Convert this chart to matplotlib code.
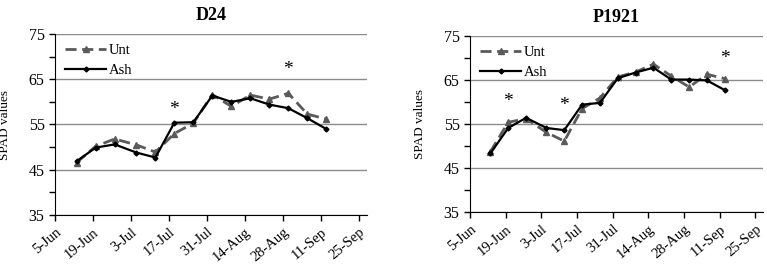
import matplotlib
matplotlib.use("Agg")
import matplotlib.pyplot as plt
import matplotlib.dates as mdates
from matplotlib.ticker import MultipleLocator, FuncFormatter
import datetime as dt

# sampling dates (same for both cultivars)
dates = ["13-Jun", "20-Jun", "27-Jun", "5-Jul", "12-Jul", "19-Jul", "26-Jul",
         "2-Aug", "9-Aug", "16-Aug", "23-Aug", "30-Aug", "6-Sep", "13-Sep"]

d24_unt = [46.6, 50.2, 51.8, 50.5, 48.9, 53.0, 55.3, 61.6, 59.0, 61.5, 60.6, 61.9, 57.3, 56.2]
d24_ash = [46.9, 49.9, 50.6, 48.8, 47.7, 55.4, 55.5, 61.4, 60.0, 60.8, 59.4, 58.6, 56.4, 54.0]

p1921_unt = [48.7, 55.4, 56.2, 53.1, 51.1, 58.5, 60.9, 65.7, 66.8, 68.6, 65.9, 63.4, 66.3, 65.3]
p1921_ash = [48.3, 54.1, 56.4, 54.1, 53.6, 59.4, 59.8, 65.4, 66.7, 67.8, 65.1, 65.1, 64.9, 62.7]

# significance marks (date, y)
d24_stars = [("19-Jul", 58.3), ("30-Aug", 67.2)]
p1921_stars = [("20-Jun", 60.2), ("12-Jul", 59.2), ("13-Sep", 69.9)]

tick_dates = ["5-Jun", "19-Jun", "3-Jul", "17-Jul", "31-Jul", "14-Aug", "28-Aug", "11-Sep", "25-Sep"]


def todate(s):
    return dt.datetime.strptime(s + "-2013", "%d-%b-%Y")


plt.rcParams["font.family"] = ["Liberation Serif", "DejaVu Serif"]

fig = plt.figure(figsize=(7.67, 2.66), dpi=100)
ax1 = fig.add_axes([55 / 767, 1 - 215 / 266, 312 / 767, 181 / 266])
ax2 = fig.add_axes([470 / 767, 1 - 212 / 266, 293 / 767, 176 / 266])


def panel(ax, title, unt, ash, stars):
    x = [todate(d) for d in dates]
    ax.plot(x, unt, color="#5a5a5a", ls=(0, (4, 2)), lw=2, marker="^", ms=4,
            label="Unt", zorder=3)
    ax.plot(x, ash, color="black", lw=1.6, marker="D", ms=2.5, label="Ash", zorder=4)
    for d, y in stars:
        ax.text(todate(d), y, "*", ha="center", va="center", fontsize=14)
    ax.set_ylim(35, 75)
    ax.set_xlim(todate("5-Jun"), todate("28-Sep"))
    ax.yaxis.set_major_locator(MultipleLocator(10, offset=5))
    ax.yaxis.set_minor_locator(MultipleLocator(5))
    ax.grid(axis="y", which="major", color="#8c8c8c", lw=1)
    ax.set_axisbelow(True)
    ax.set_xticks([todate(d) for d in tick_dates])
    ax.xaxis.set_major_formatter(FuncFormatter(
        lambda v, p: mdates.num2date(v).strftime("%d-%b").lstrip("0")))
    for lab in ax.get_xticklabels():
        lab.set_rotation(40)
        lab.set_ha("right")
        lab.set_rotation_mode("anchor")
    ax.tick_params(axis="x", labelsize=10.5, length=4, width=1)
    ax.tick_params(axis="y", labelsize=11.5, length=4, width=1)
    ax.tick_params(axis="y", which="minor", length=4, width=1)
    ax.spines["top"].set_visible(False)
    ax.spines["right"].set_visible(False)
    ax.set_ylabel("SPAD values", fontsize=9.5)
    ax.set_title(title, fontsize=13, fontweight="bold", pad=10)
    ax.legend(loc="upper left", frameon=False, fontsize=10.5, handlelength=2.8,
              borderaxespad=0.3, labelspacing=0.45, handletextpad=0.2)


panel(ax1, "D24", d24_unt, d24_ash, d24_stars)
panel(ax2, "P1921", p1921_unt, p1921_ash, p1921_stars)
ax1.yaxis.set_label_coords(-0.14, 0.5)
ax2.yaxis.set_label_coords(-0.15, 0.5)

fig.savefig("out.png", dpi=100)
